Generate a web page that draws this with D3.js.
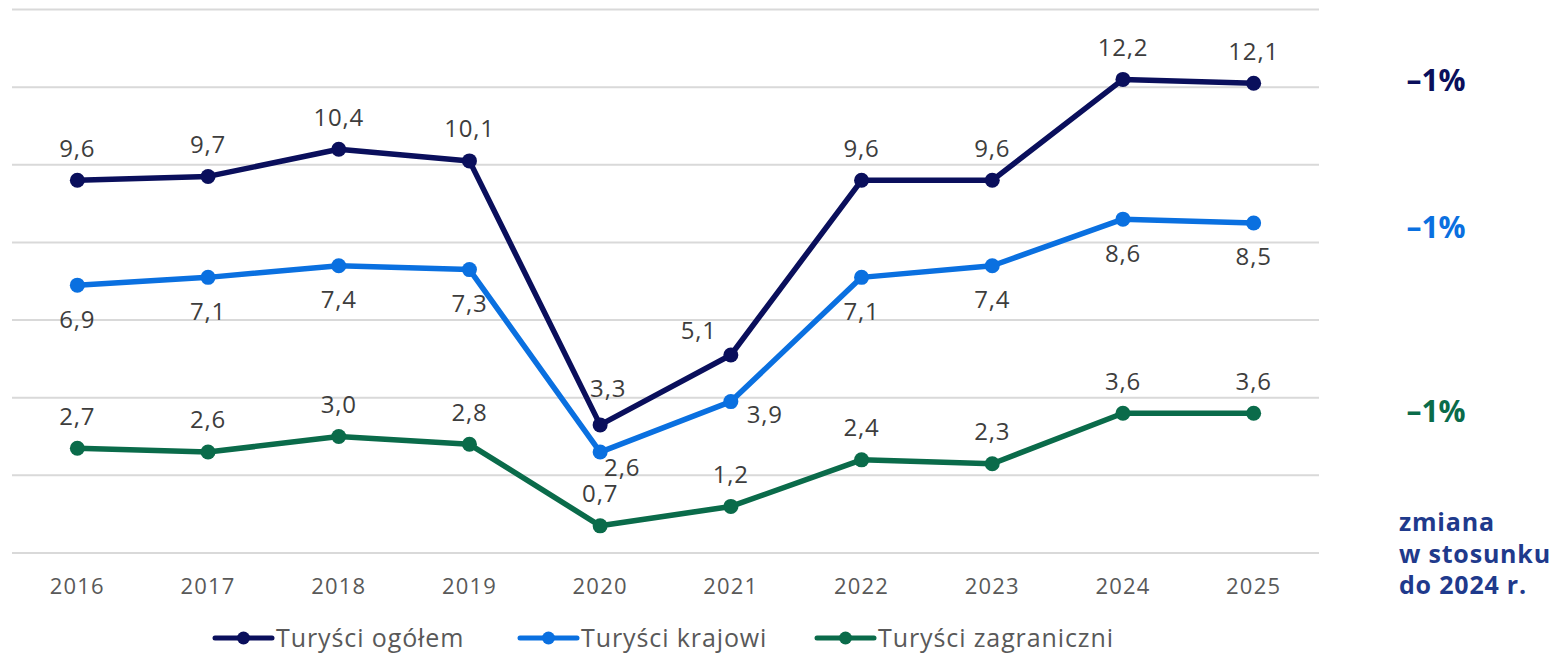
<!DOCTYPE html>
<html lang="pl">
<head>
<meta charset="utf-8">
<script src="https://cdn.jsdelivr.net/npm/d3@7"></script>
<style>
  html, body { margin: 0; padding: 0; background: #fff; }
  svg { display: block; }
</style>
</head>
<body>
<svg id="chart" width="1554" height="655"></svg>
<script>
// Liczba turystów (mln) w latach 2016–2025
const years = ["2016", "2017", "2018", "2019", "2020", "2021", "2022", "2023", "2024", "2025"];
const ogolem = [9.6, 9.7, 10.4, 10.1, 3.3, 5.1, 9.6, 9.6, 12.2, 12.1];
const krajowi = [6.9, 7.1, 7.4, 7.3, 2.6, 3.9, 7.1, 7.4, 8.6, 8.5];
const zagraniczni = [2.7, 2.6, 3.0, 2.8, 0.7, 1.2, 2.4, 2.3, 3.6, 3.6];
const seriesNames = ["Turyści ogółem", "Turyści krajowi", "Turyści zagraniczni"];
const changes = ["–1%", "–1%", "–1%"];
const yTicks = [0, 2, 4, 6, 8, 10, 12, 14];

// placement of the value labels relative to each point
const placeOgolem = ["t", "t", "t", "t", "tr", "tl", "t", "t", "t", "t"];
const placeKrajowi = ["b", "b", "b", "b", "br", "r", "b", "b", "b", "b"];
const placeZagr = ["t", "t", "t", "t", "t", "t", "t", "t", "t", "t"];

const colors = ["#0a0f5c", "#0a70e0", "#0a6b4a"];
const noteColor = "#1f3a8c";

const series = [
  { name: seriesNames[0], values: ogolem, place: placeOgolem, color: colors[0], change: changes[0] },
  { name: seriesNames[1], values: krajowi, place: placeKrajowi, color: colors[1], change: changes[1] },
  { name: seriesNames[2], values: zagraniczni, place: placeZagr, color: colors[2], change: changes[2] }
];

const svg = d3.select("#chart");
const plotLeft = 12, plotRight = 1319, plotTop = 9.5, plotBottom = 553;

const x = d3.scaleBand().domain(years).range([plotLeft, plotRight]);
const y = d3.scaleLinear().domain([0, 14]).range([plotBottom, plotTop]);
const cx = d => x(d) + x.bandwidth() / 2;

// horizontal grid
svg.append("g").selectAll("line").data(yTicks).join("line")
  .attr("x1", plotLeft).attr("x2", plotRight)
  .attr("y1", d => y(d)).attr("y2", d => y(d))
  .attr("stroke", "#d9d9d9").attr("stroke-width", 2);

// category axis
const xAxis = svg.append("g")
  .attr("transform", `translate(0,${plotBottom})`)
  .call(d3.axisBottom(x).tickSize(0).tickPadding(25));
xAxis.select(".domain").remove();
xAxis.selectAll("text")
  .attr("font-family", "'Open Sans', sans-serif")
  .attr("font-size", 22)
  .attr("letter-spacing", 1.2)
  .attr("fill", "#595959");

const line = d3.line().x((d, i) => cx(years[i])).y(d => y(d));

const off = {
  t: [0, -32], b: [0, 34], tl: [-32, -24], tr: [8, -36], r: [34, 13], br: [22, 16]
};

series.forEach(s => {
  const g = svg.append("g");
  g.append("path")
    .datum(s.values)
    .attr("d", line)
    .attr("fill", "none")
    .attr("stroke", s.color)
    .attr("stroke-width", 5.5)
    .attr("stroke-linejoin", "round");
  g.selectAll("circle").data(s.values).join("circle")
    .attr("cx", (d, i) => cx(years[i]))
    .attr("cy", d => y(d))
    .attr("r", 7.5)
    .attr("fill", s.color);

  g.selectAll("text.val").data(s.values).join("text")
    .attr("class", "val")
    .attr("x", (d, i) => cx(years[i]) + off[s.place[i]][0])
    .attr("y", (d, i) => y(d) + off[s.place[i]][1])
    .attr("dy", "0.35em")
    .attr("text-anchor", "middle")
    .attr("font-family", "'Open Sans', sans-serif")
    .attr("font-size", 24)
    .attr("letter-spacing", 0.8)
    .attr("fill", "#3d3d3d")
    .text(d => d3.format(".1f")(d).replace(".", ","));
});

// change vs 2024, aligned with each series' end
const changeY = [80, 227, 411];
svg.append("g").selectAll("text").data(series).join("text")
  .attr("x", 1436)
  .attr("y", (d, i) => changeY[i])
  .attr("dy", "0.35em")
  .attr("text-anchor", "middle")
  .attr("font-family", "'Open Sans', sans-serif")
  .attr("font-weight", 700)
  .attr("font-size", 30)
  .attr("fill", d => d.color)
  .text(d => d.change);

const note = svg.append("text")
  .attr("x", 1399)
  .attr("font-family", "'Open Sans', sans-serif")
  .attr("font-weight", 700)
  .attr("font-size", 25)
  .attr("letter-spacing", 0.8)
  .attr("fill", noteColor);
["zmiana", "w stosunku", "do 2024 r."].forEach((t, i) => {
  note.append("tspan").attr("x", 1399).attr("y", 531 + i * 31.5).text(t);
});

// legend
const legendX = [215, 520, 817];
const lg = svg.append("g").selectAll("g").data(series).join("g")
  .attr("transform", (d, i) => `translate(${legendX[i]},638)`);
lg.append("line")
  .attr("x1", 0).attr("x2", 57)
  .attr("stroke", d => d.color).attr("stroke-width", 5)
  .attr("stroke-linecap", "round");
lg.append("circle").attr("cx", 28.5).attr("r", 6.5).attr("fill", d => d.color);
lg.append("text")
  .attr("x", 61).attr("dy", "0.35em")
  .attr("font-family", "'Open Sans', sans-serif")
  .attr("font-size", 25)
  .attr("letter-spacing", 0.9)
  .attr("fill", "#595959")
  .text(d => d.name);
</script>
</body>
</html>
